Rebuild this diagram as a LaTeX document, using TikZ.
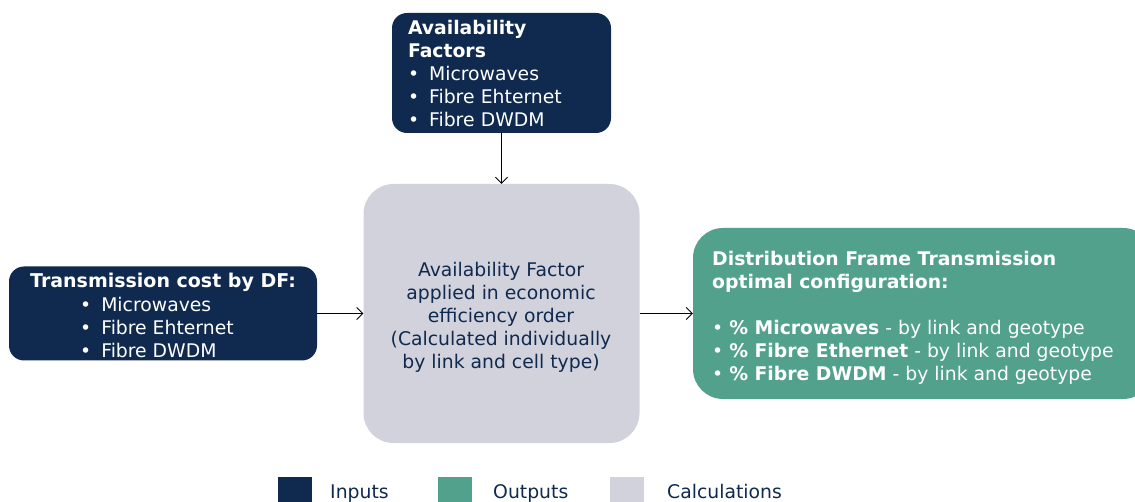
\documentclass[tikz,border=0pt]{standalone}
\usepackage{fontspec}
\setmainfont{DejaVu Sans}
\usetikzlibrary{arrows.meta, positioning}

\definecolor{navy}{HTML}{0F2A4E}
\definecolor{teal}{HTML}{52A18C}
\definecolor{calcgray}{HTML}{D2D2DC}

\newcommand{\bul}{•\hspace{10pt}}

\begin{document}
\begin{tikzpicture}[x=1pt, y=-1pt,
  every node/.style={font=\fontsize{18.8}{23}\selectfont, inner sep=0pt},
  inbox/.style={rectangle, rounded corners=15pt, fill=navy, text=white},
  outbox/.style={rectangle, rounded corners=30pt, fill=teal, text=white},
  calcbox/.style={rectangle, rounded corners=30pt, fill=calcgray},
  keybox/.style={rectangle, minimum width=34pt, minimum height=34pt},
  keytxt/.style={anchor=base west, text=navy},
  flow/.style={-{Straight Barb[length=6pt, width=12pt]}, line width=0.8pt}]

\useasboundingbox (0,0) rectangle (1135,502);

% Cajas de entrada
\node[inbox, minimum width=219pt, minimum height=120pt, text width=187pt, inner xsep=16pt, align=left] (avail) at (501.5,73)
  {\textbf{Availability}\\ \textbf{Factors}\\ \bul Microwaves\\ \bul Fibre Ehternet\\ \bul Fibre DWDM};
\node[inbox, minimum width=308pt, minimum height=94pt] (cost) at (163,313.5) {};
\node[text=white, font=\fontsize{19}{23}\selectfont\bfseries] (costtitle) at (163,282) {Transmission cost by DF:};
\node[text=white, align=left, anchor=north west] (costlist) at (80,297)
  {\bul Microwaves\\ \bul Fibre Ehternet\\ \bul Fibre DWDM};

% Calculo
\node[calcbox, minimum width=276pt, minimum height=259pt] (calc) at (501.5,313.5) {};
\node[text=navy, align=center] (calctxt) at (501,317)
  {Availability Factor\\ applied in economic\\ efficiency order\\ (Calculated individually\\ by link and cell type)};

% Salida
\node[outbox, minimum width=460pt, minimum height=171pt] (out) at (923,313.5) {};
\node[text=white, align=left, anchor=north west] (outtxt) at (712,251)
  {\textbf{Distribution Frame Transmission}\\ \textbf{optimal configuration:}\\[23pt]
   • \textbf{\% Microwaves} - by link and geotype\\
   • \textbf{\% Fibre Ethernet} - by link and geotype\\
   • \textbf{\% Fibre DWDM} - by link and geotype};

% Flechas
\draw[flow] (avail.south) -- (calc.north);
\draw[flow] (cost.east) -- (calc.west);
\draw[flow] (calc.east) -- (out.west);

% Leyenda
\node[keybox, fill=navy] (keyin) at (295,494) {};
\node[keytxt] (keyintxt) at (330,498) {Inputs};
\node[keybox, fill=teal] (keyout) at (455,494) {};
\node[keytxt] (keyouttxt) at (493,498) {Outputs};
\node[keybox, fill=calcgray] (keycalc) at (627,494) {};
\node[keytxt] (keycalctxt) at (667,498) {Calculations};

\end{tikzpicture}
\end{document}
